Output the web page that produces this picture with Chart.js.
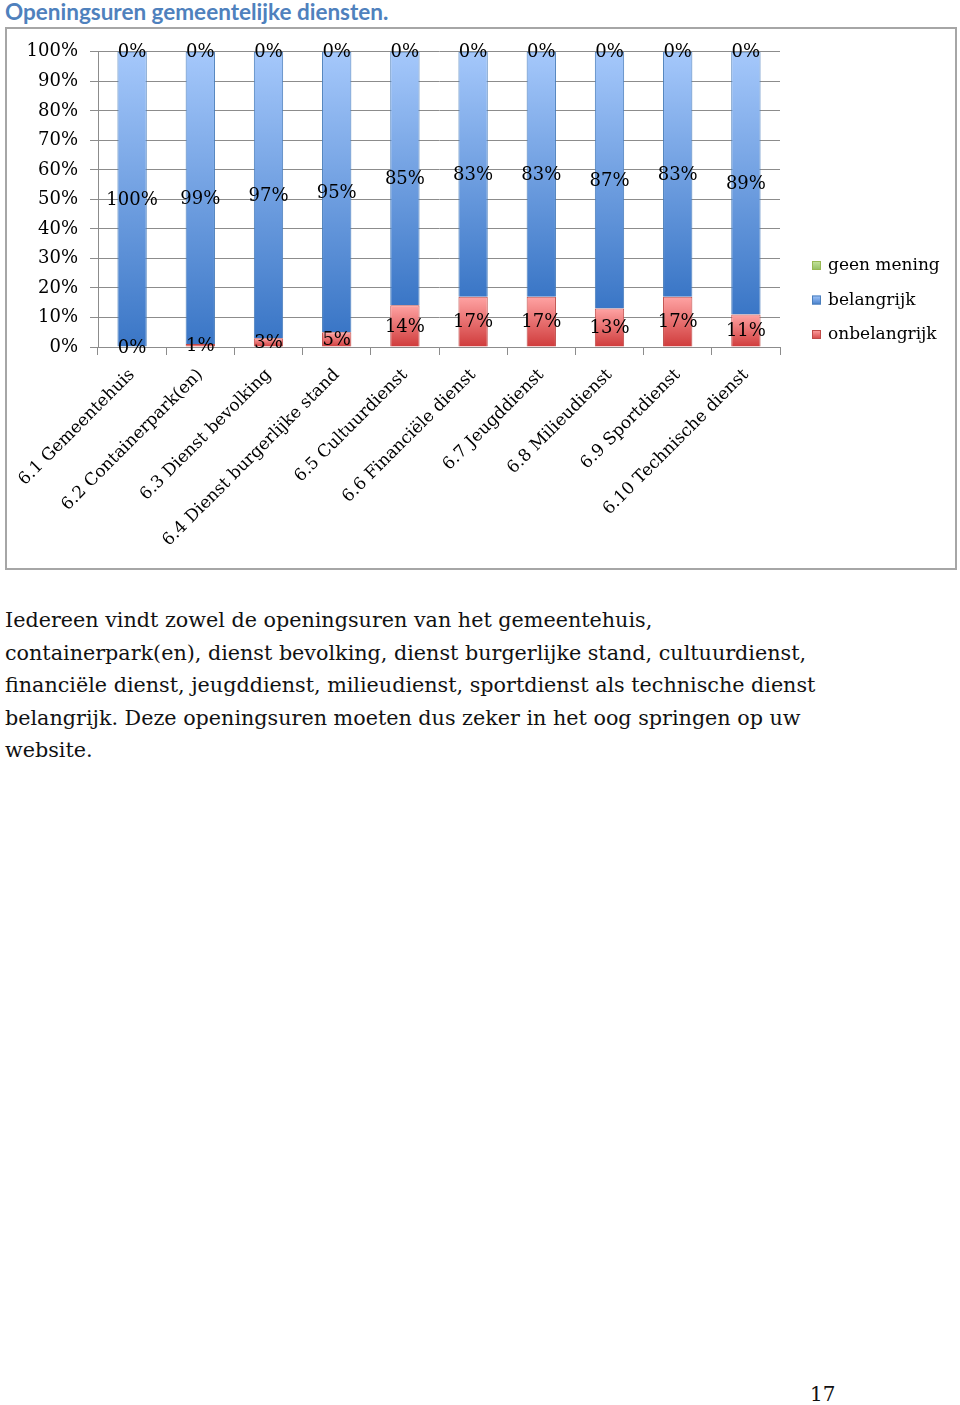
<!DOCTYPE html>
<html>
<head>
<meta charset="utf-8">
<script src="https://cdn.jsdelivr.net/npm/chart.js@4.4.1/dist/chart.umd.min.js"></script>
<style>
  body { margin:0; background:#fff; width:960px; height:1405px; position:relative; overflow:hidden; }
  #title { position:absolute; left:5px; top:-2px; font:bold 22.5px Lato, sans-serif; color:#4f81bd; white-space:nowrap; }
  #box { position:absolute; left:5px; top:27px; width:952px; height:543px; border:2px solid #a6a6a6; box-sizing:border-box; }
  #txt { position:absolute; left:5px; top:604px; font:20.7px "DejaVu Serif", serif; line-height:32.5px; color:#111; white-space:nowrap; }
  #page { position:absolute; left:810px; top:1382px; font:20px "DejaVu Serif", serif; color:#111; }
</style>
</head>
<body>
<div id="title">Openingsuren gemeentelijke diensten.</div>
<div id="box"><canvas id="chart"></canvas></div>
<div id="txt">Iedereen vindt zowel de openingsuren van het gemeentehuis,<br>containerpark(en), dienst bevolking, dienst burgerlijke stand, cultuurdienst,<br>financiële dienst, jeugddienst, milieudienst, sportdienst als technische dienst<br>belangrijk. Deze openingsuren moeten dus zeker in het oog springen op uw<br>website.</div>
<div id="page">17</div>
<script>
// --- data ---
const categories = ['6.1 Gemeentehuis', '6.2 Containerpark(en)', '6.3 Dienst bevolking',
  '6.4 Dienst burgerlijke stand', '6.5 Cultuurdienst', '6.6 Financiële dienst',
  '6.7 Jeugddienst', '6.8 Milieudienst', '6.9 Sportdienst', '6.10 Technische dienst'];
const onbelangrijk = [0, 1, 3, 5, 14, 17, 17, 13, 17, 11];
const belangrijk = [100, 99, 97, 95, 85, 83, 83, 87, 83, 89];
const geenMening = [0, 0, 0, 0, 0, 0, 0, 0, 0, 0];
const yTicks = [0, 10, 20, 30, 40, 50, 60, 70, 80, 90, 100];

const SERIF = '"DejaVu Serif", serif';

// 100% stacked, like the Excel original
const totals = categories.map((c, i) => onbelangrijk[i] + belangrijk[i] + geenMening[i]);
const pct = arr => arr.map((v, i) => totals[i] ? v / totals[i] * 100 : 0);

const colors = {
  onbelangrijk: { top: '#ffa3a3', bottom: '#cf3b3b', border: '#be4b48' },
  belangrijk: { top: '#a5c8fb', bottom: '#3a76c6', border: '#4a7ebb' },
  geen: { top: '#c6e59e', bottom: '#8db95b', border: '#98b954' }
};

function gradFill(col) {
  return c => {
    const chart = c.chart;
    if (!chart.chartArea || !chart.scales.y) return col.bottom;
    const ds = chart.data.datasets;
    let base = 0;
    for (let d = 0; d < c.datasetIndex; d++) base += ds[d].data[c.dataIndex];
    const v = ds[c.datasetIndex].data[c.dataIndex];
    const y0 = chart.scales.y.getPixelForValue(base + v);
    const y1 = chart.scales.y.getPixelForValue(base);
    if (y1 - y0 < 1) return col.bottom;
    const g = chart.ctx.createLinearGradient(0, y0, 0, y1);
    g.addColorStop(0, col.top);
    g.addColorStop(1, col.bottom);
    return g;
  };
}

const rawValues = [onbelangrijk, belangrijk, geenMening];

// value labels centred in each segment
const valueLabels = {
  id: 'valueLabels',
  afterDatasetsDraw(chart) {
    const ctx = chart.ctx;
    ctx.save();
    ctx.font = '18px ' + SERIF;
    ctx.fillStyle = '#000';
    ctx.textAlign = 'center';
    ctx.textBaseline = 'middle';
    chart.data.datasets.forEach((ds, di) => {
      chart.getDatasetMeta(di).data.forEach((el, i) => {
        const p = el.getProps(['x', 'y', 'base'], true);
        ctx.fillText(rawValues[di][i] + '%', p.x, (p.y + p.base) / 2 + 1);
      });
    });
    ctx.restore();
  }
};

// legend on the right, Excel order (top series first)
const sideLegend = {
  id: 'sideLegend',
  afterDraw(chart) {
    const ctx = chart.ctx;
    const x = chart.chartArea.right + 32;
    const items = chart.data.datasets.slice().reverse();
    const gap = 34.5;
    const y0 = chart.height / 2 + 2 - gap * (items.length - 1) / 2;
    ctx.save();
    ctx.font = '17px ' + SERIF;
    ctx.textBaseline = 'middle';
    ctx.textAlign = 'left';
    items.forEach((ds, k) => {
      const y = y0 + k * gap;
      const g = ctx.createLinearGradient(0, y - 5, 0, y + 5);
      g.addColorStop(0, ds.legendCol.top);
      g.addColorStop(1, ds.legendCol.bottom);
      ctx.fillStyle = g;
      ctx.fillRect(x, y - 5, 9, 9);
      ctx.strokeStyle = ds.legendCol.border;
      ctx.lineWidth = 1;
      ctx.strokeRect(x + 0.5, y - 4.5, 8, 8);
      ctx.fillStyle = '#000';
      ctx.fillText(ds.label, x + 16, y);
    });
    ctx.restore();
  }
};

function dataset(label, values, col) {
  return {
    label, data: pct(values), legendCol: col,
    backgroundColor: gradFill(col), borderColor: col.border, borderWidth: 1,
    barPercentage: 0.43, categoryPercentage: 1
  };
}

new Chart(document.getElementById('chart'), {
  type: 'bar',
  data: {
    labels: categories,
    datasets: [
      dataset('onbelangrijk', onbelangrijk, colors.onbelangrijk),
      dataset('belangrijk', belangrijk, colors.belangrijk),
      dataset('geen mening', geenMening, colors.geen)
    ]
  },
  options: {
    responsive: true,
    maintainAspectRatio: false,
    animation: false,
    layout: { padding: { top: 16, right: 175, left: 0, bottom: 0 } },
    plugins: { legend: { display: false }, tooltip: { enabled: false } },
    scales: {
      x: {
        stacked: true,
        afterFit: s => { s.height = 221; },
        grid: { offset: true, drawOnChartArea: false, color: '#8c8c8c', tickLength: 8 },
        border: { color: '#8c8c8c' },
        ticks: { color: '#000', font: { family: SERIF, size: 17 }, minRotation: 45, maxRotation: 45, autoSkip: false, padding: 10 }
      },
      y: {
        stacked: true, min: 0, max: 100,
        afterFit: s => { s.width = 91; },
        afterBuildTicks: s => { s.ticks = yTicks.map(v => ({ value: v })); },
        grid: { color: '#8c8c8c', tickLength: 8 },
        border: { color: '#8c8c8c' },
        ticks: { color: '#000', font: { family: SERIF, size: 18 }, padding: 12, callback: v => v + '%' }
      }
    }
  },
  plugins: [valueLabels, sideLegend]
});
</script>
</body>
</html>
